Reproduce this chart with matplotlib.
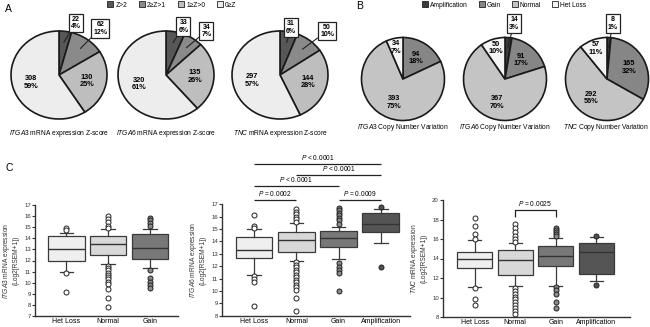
import numpy as np
import matplotlib
matplotlib.use("Agg")
import matplotlib.pyplot as plt
from matplotlib.patches import Patch

plt.rcParams['font.family'] = ['Liberation Sans', 'DejaVu Sans']
plt.rcParams['mathtext.fontset'] = 'custom'
plt.rcParams['mathtext.it'] = 'Liberation Sans:italic'
plt.rcParams['mathtext.rm'] = 'Liberation Sans'

# ---- panel A: mRNA z-score groups ----
z_groups = ["Z>2", "2≥Z>1", "1≥Z>0", "0≥Z"]
z_colors = ["#575757", "#8a8a8a", "#bebebe", "#ededed"]
itga3_z_counts = [22, 62, 130, 308]
itga3_z_pct = [4, 12, 25, 59]
itga6_z_counts = [33, 34, 135, 320]
itga6_z_pct = [6, 7, 26, 61]
tnc_z_counts = [31, 50, 144, 297]
tnc_z_pct = [6, 10, 28, 57]

# ---- panel B: copy number groups ----
cnv_groups = ["Amplification", "Gain", "Normal", "Het Loss"]
cnv_colors = ["#3c3c3c", "#868686", "#c4c4c4", "#f5f5f5"]
itga3_cnv_counts = [0, 94, 393, 34]
itga3_cnv_pct = [0, 18, 75, 7]
itga6_cnv_counts = [14, 91, 367, 50]
itga6_cnv_pct = [3, 17, 70, 10]
tnc_cnv_counts = [8, 165, 292, 57]
tnc_cnv_pct = [1, 32, 56, 11]

# ---- panel C: box plot summaries (log2 RSEM+1) ----
itga3_box_groups = ["Het Loss", "Normal", "Gain"]
itga3_q1 = [11.98, 12.5, 12.1]
itga3_med = [13.05, 13.5, 13.1]
itga3_q3 = [14.2, 14.22, 14.38]
itga3_wlo = [10.95, 11.65, 11.35]
itga3_whi = [14.45, 14.8, 14.85]
itga3_fliers = [
    [14.95, 14.75, 10.85, 9.2],
    [16.0, 15.75, 15.45, 15.15, 14.95, 11.5, 11.3, 11.1, 10.9, 10.7, 10.5, 10.3, 10.1, 9.9, 9.4, 8.65, 7.85],
    [15.85, 15.65, 15.4, 15.15, 11.15, 10.45, 10.1, 9.8, 9.55],
]

itga6_box_groups = ["Het Loss", "Normal", "Gain", "Amplification"]
itga6_q1 = [12.66, 13.17, 13.58, 14.74]
itga6_med = [13.3, 14.12, 14.25, 15.38]
itga6_q3 = [14.33, 14.79, 14.84, 16.27]
itga6_wlo = [11.29, 12.42, 12.58, 13.9]
itga6_whi = [14.98, 15.46, 15.14, 16.62]
itga6_fliers = [
    [16.14, 15.25, 15.05, 11.2, 10.96, 10.7, 8.81],
    [16.6, 16.4, 16.2, 16.0, 15.8, 15.6, 12.3, 12.1, 11.9, 11.7, 11.5, 11.3, 11.1, 10.9, 10.7, 10.5,
     10.3, 10.1, 9.45, 8.37],
    [16.7, 16.5, 16.3, 16.1, 15.9, 15.7, 15.4, 12.23, 11.96, 11.7, 11.42, 10.02],
    [16.76, 11.96],
]
itga6_pairs = [(1, 4), (2, 4), (1, 3), (1, 2), (3, 4)]
itga6_p_text = ["P < 0.0001", "P < 0.0001", "P < 0.0001", "P = 0.0002", "P = 0.0009"]
itga6_p_height = [20.26, 19.37, 18.48, 17.35, 17.35]

tnc_box_groups = ["Het Loss", "Normal", "Gain", "Amplification"]
tnc_q1 = [13.04, 12.35, 13.21, 12.46]
tnc_med = [13.95, 13.83, 14.27, 14.7]
tnc_q3 = [14.69, 14.86, 15.3, 15.61]
tnc_wlo = [11.09, 11.15, 11.19, 11.67]
tnc_whi = [15.89, 15.54, 16.1, 16.2]
tnc_fliers = [
    [18.18, 17.33, 16.47, 15.95, 10.98, 9.8, 9.2],
    [17.5, 17.09, 16.67, 16.33, 15.99, 15.71, 10.98, 10.7, 10.4, 10.1, 9.8, 9.5, 9.2, 8.9, 8.6, 8.3],
    [17.1, 16.9, 16.7, 16.5, 16.3, 11.09, 10.74, 10.4, 9.54, 8.93],
    [16.3, 11.26],
]
tnc_pairs = [(2, 3)]
tnc_p_text = ["P = 0.0025"]
tnc_p_height = [19.0]

box_colors = ["#efefef", "#d8d8d8", "#787878", "#555555"]
flier_faces = ["white", "white", "#8a8a8a", "#505050"]

W, H = 650, 327
fig = plt.figure(figsize=(6.5, 3.27), dpi=100)


def px_axes(x0, y0, x1, y1):
    return fig.add_axes([x0 / W, 1 - y1 / H, (x1 - x0) / W, (y1 - y0) / H])


def italic_gene(gene, rest):
    return r"$\it{" + gene + "}$" + rest


def draw_pie(cx, cy, rx, ry, counts, pcts, colors, n_call, call_pos, caption, cap_y):
    ax = px_axes(cx - 1.05 * rx, cy - 1.05 * ry, cx + 1.05 * rx, cy + 1.05 * ry)
    wedges, _ = ax.pie(counts, colors=colors, startangle=90, counterclock=False,
                       wedgeprops=dict(edgecolor="#1a1a1a", linewidth=1.2))
    ax.set_aspect("auto")
    ax.set_xlim(-1.05, 1.05)
    ax.set_ylim(-1.05, 1.05)
    for i, (w, c, p) in enumerate(zip(wedges, counts, pcts)):
        if c == 0:
            continue
        th = np.deg2rad((w.theta1 + w.theta2) / 2)
        label = f"{c}\n{p}%"
        if i < n_call:
            # small slices get a boxed callout
            ax.annotate(label, xy=(0.75 * np.cos(th), 0.75 * np.sin(th)), xytext=call_pos[i],
                        ha="center", va="center", fontsize=5, fontweight="bold",
                        linespacing=1.1, annotation_clip=False,
                        bbox=dict(boxstyle="square,pad=0.3", fc="white", ec="#222222", lw=0.9),
                        arrowprops=dict(arrowstyle="-", color="#222222", lw=0.8,
                                        shrinkA=0, shrinkB=0))
        else:
            d = 0.78 if p < 15 else 0.6
            ax.text(d * np.cos(th), d * np.sin(th), label, ha="center", va="center",
                    fontsize=5.3, fontweight="bold", linespacing=1.1)
    ax.text(0, cap_y, caption, ha="center", va="center", fontsize=4.8, clip_on=False)
    return ax


# panel A pies
draw_pie(59, 75, 48, 44, itga3_z_counts, itga3_z_pct, z_colors, 2,
         [(0.35, 1.18), (0.86, 1.06)], italic_gene("ITGA3", " mRNA expression Z-score"), -1.32)
draw_pie(166, 75, 48, 44, itga6_z_counts, itga6_z_pct, z_colors, 2,
         [(0.36, 1.1), (0.84, 1.0)], italic_gene("ITGA6", " mRNA expression Z-score"), -1.32)
draw_pie(280, 75, 48, 44, tnc_z_counts, tnc_z_pct, z_colors, 2,
         [(0.23, 1.08), (0.98, 1.0)], italic_gene("TNC", " mRNA expression Z-score"), -1.32)

# panel B pies
draw_pie(403, 79, 41.5, 41.5, itga3_cnv_counts, itga3_cnv_pct, cnv_colors, 1,
         [(0.2, 1.34)], italic_gene("ITGA3", " Copy Number Variation"), -1.18)
draw_pie(505, 79, 41.5, 41.5, itga6_cnv_counts, itga6_cnv_pct, cnv_colors, 1,
         [(0.22, 1.34)], italic_gene("ITGA6", " Copy Number Variation"), -1.18)
ax_tnc = draw_pie(607, 79, 41.5, 41.5, tnc_cnv_counts, tnc_cnv_pct, cnv_colors, 1,
                  [(0.14, 1.34)], "", -1.18)
ax_tnc.text(-0.03, -1.18, italic_gene("TNC", " Copy Number Variation"), ha="center",
            va="center", fontsize=4.8, clip_on=False)

# legends
leg_kw = dict(loc="center", ncol=4, frameon=False, fontsize=4.8, handlelength=0.9,
              handleheight=0.9, handletextpad=0.3, borderpad=0, borderaxespad=0)
fig.legend(handles=[Patch(fc=c, ec="#222222", lw=0.6) for c in z_colors], labels=z_groups,
           bbox_to_anchor=(172 / W, 1 - 5 / H), columnspacing=1.8, **leg_kw)
fig.legend(handles=[Patch(fc=c, ec="#222222", lw=0.6) for c in cnv_colors], labels=cnv_groups,
           bbox_to_anchor=(504 / W, 1 - 5 / H), columnspacing=1.6, **leg_kw)


def draw_box(box, groups, q1, med, q3, wlo, whi, fliers, ylim, yticks, xlim, gene):
    ax = px_axes(*box)
    stats = [dict(label=g, q1=a, med=m, q3=b, whislo=lo, whishi=hi, fliers=f)
             for g, a, m, b, lo, hi, f in zip(groups, q1, med, q3, wlo, whi, fliers)]
    art = ax.bxp(stats, positions=np.arange(1, len(groups) + 1), widths=0.87, patch_artist=True,
                 capwidths=0.32,
                 boxprops=dict(edgecolor="#3a3a3a", linewidth=0.9),
                 medianprops=dict(color="#333333", linewidth=1.0),
                 whiskerprops=dict(color="#3a3a3a", linewidth=0.9),
                 capprops=dict(color="#3a3a3a", linewidth=0.9),
                 flierprops=dict(marker="o", markersize=3.6, markeredgecolor="#222222",
                                 markeredgewidth=0.7))
    for b, c in zip(art["boxes"], box_colors):
        b.set_facecolor(c)
    for fl, c in zip(art["fliers"], flier_faces):
        fl.set_markerfacecolor(c)
        fl.set_clip_on(False)
    ax.set_ylim(*ylim)
    ax.set_xlim(*xlim)
    ax.set_yticks(yticks)
    for s in ["top", "right"]:
        ax.spines[s].set_visible(False)
    for s in ["left", "bottom"]:
        ax.spines[s].set_linewidth(1.0)
        ax.spines[s].set_color("#333333")
    ax.tick_params(axis="y", labelsize=4.3, length=2, width=0.8, pad=1, colors="#333333")
    ax.tick_params(axis="x", labelsize=5.0, length=0, pad=1.5)
    ax.set_ylabel(italic_gene(gene, " mRNA expression") + "\n(Log2[RSEM+1])", fontsize=4.8,
                  labelpad=3, linespacing=1.2, color="#333333")
    return ax


def sig(ax, pairs, texts, heights, leg=0.0):
    for (a, b), t, y in zip(pairs, texts, heights):
        ax.plot([a, a, b, b], [y - leg, y, y, y - leg], color="#222222", lw=0.9,
                clip_on=False, solid_capstyle="butt")
        ax.annotate(r"$\it{P}$" + t[1:], xy=((a + b) / 2, y), xytext=(0, 1.2),
                    textcoords="offset points", ha="center", va="bottom", fontsize=4.8,
                    annotation_clip=False)


ax1 = draw_box((35, 205, 178, 316), itga3_box_groups, itga3_q1, itga3_med, itga3_q3, itga3_wlo,
               itga3_whi, itga3_fliers, (7, 17), range(7, 18), (0.25, 3.67), "ITGA3")
ax2 = draw_box((222, 204.3, 410, 315.7), itga6_box_groups, itga6_q1, itga6_med, itga6_q3, itga6_wlo,
               itga6_whi, itga6_fliers, (8, 17), range(8, 18), (0.24, 4.69), "ITGA6")
sig(ax2, itga6_pairs, itga6_p_text, itga6_p_height)
ax3 = draw_box((443, 200, 630, 317), tnc_box_groups, tnc_q1, tnc_med, tnc_q3, tnc_wlo,
               tnc_whi, tnc_fliers, (8, 20), range(8, 21, 2), (0.21, 4.84), "TNC")
sig(ax3, tnc_pairs, tnc_p_text, tnc_p_height, leg=0.7)

# panel letters
fig.text(5 / W, 1 - 9 / H, "A", fontsize=7.5, va="center")
fig.text(356 / W, 1 - 6 / H, "B", fontsize=7.5, va="center")
fig.text(5 / W, 1 - 168 / H, "C", fontsize=7.5, va="center")

fig.savefig("out.png", dpi=100)
